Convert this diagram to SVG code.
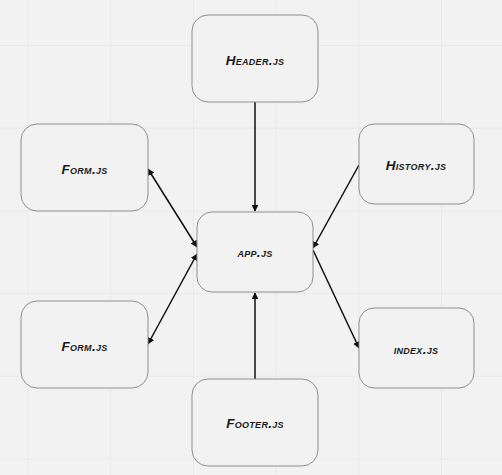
<svg xmlns="http://www.w3.org/2000/svg" width="502" height="475" viewBox="0 0 502 475">
  <defs>
    <marker id="arr" viewBox="0 0 10 10" refX="9" refY="5" markerWidth="7" markerHeight="7" markerUnits="userSpaceOnUse" orient="auto-start-reverse">
      <path d="M0,0 L10,5 L0,10 z" fill="#111"/>
    </marker>
    <pattern id="grid" x="27.5" y="45" width="82.7" height="82.7" patternUnits="userSpaceOnUse">
      <path d="M0,0 H82.7 M0,0 V82.7" stroke="#e2e2e2" stroke-width="1" fill="none"/>
    </pattern>
  </defs>
  <style>
    .box { fill: #f2f2f2; stroke: #8f8f8f; stroke-width: 1; }
    .lbl { font-family: "Liberation Sans", Arial, sans-serif; font-size: 13.5px; font-weight: bold; font-style: italic; font-variant: small-caps; letter-spacing: 0.3px; fill: #1a1a1a; text-anchor: middle; dominant-baseline: central; }
    .edge { stroke: #111; stroke-width: 1.5; fill: none; }
  </style>
  <rect x="0" y="0" width="502" height="475" fill="#f2f2f2"/>
  <rect x="0" y="0" width="502" height="475" fill="url(#grid)"/>

  <g id="connectors">
    <line class="edge" x1="255" y1="102" x2="255" y2="211" marker-end="url(#arr)"/>
    <line class="edge" x1="255" y1="379" x2="255" y2="293" marker-end="url(#arr)"/>
    <line class="edge" x1="148" y1="169" x2="197" y2="247" marker-start="url(#arr)" marker-end="url(#arr)"/>
    <line class="edge" x1="148" y1="344" x2="197" y2="254" marker-start="url(#arr)" marker-end="url(#arr)"/>
    <line class="edge" x1="359" y1="165" x2="313" y2="248" marker-end="url(#arr)"/>
    <line class="edge" x1="313" y1="250" x2="359" y2="348" marker-end="url(#arr)"/>
  </g>

  <g id="header">
    <rect class="box" x="192" y="15" width="126" height="87" rx="16"/>
    <text class="lbl" x="255" y="60">Header.js</text>
  </g>
  <g id="form1">
    <rect class="box" x="21" y="124" width="127" height="87" rx="16"/>
    <text class="lbl" x="84.5" y="169">Form.js</text>
  </g>
  <g id="app">
    <rect class="box" x="197" y="212" width="116" height="80" rx="15"/>
    <text class="lbl" x="255" y="252">app.js</text>
  </g>
  <g id="history">
    <rect class="box" x="359" y="124" width="115" height="80" rx="15"/>
    <text class="lbl" x="416" y="165">History.js</text>
  </g>
  <g id="form2">
    <rect class="box" x="21" y="301" width="127" height="87" rx="16"/>
    <text class="lbl" x="84.5" y="346">Form.js</text>
  </g>
  <g id="footer">
    <rect class="box" x="192" y="379" width="126" height="87" rx="16"/>
    <text class="lbl" x="255" y="423">Footer.js</text>
  </g>
  <g id="index">
    <rect class="box" x="359" y="308" width="115" height="80" rx="15"/>
    <text class="lbl" x="416" y="349">index.js</text>
  </g>
</svg>
